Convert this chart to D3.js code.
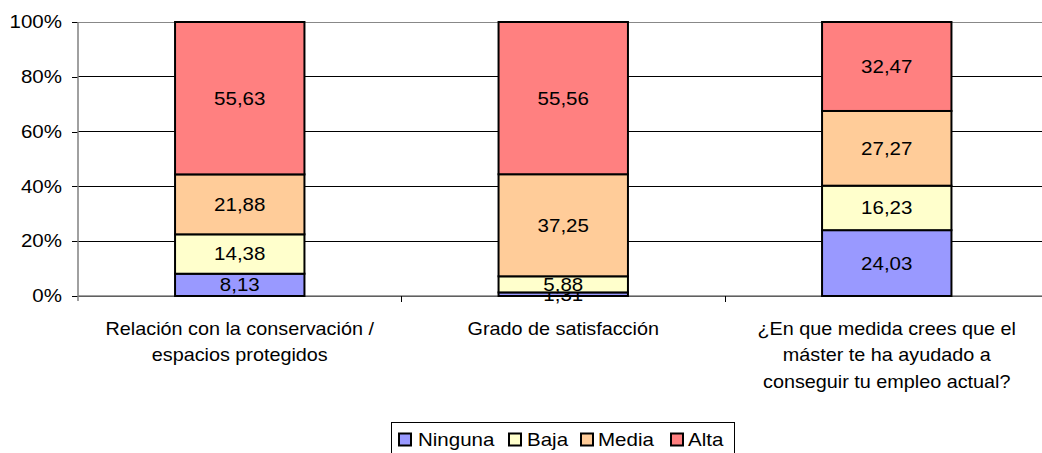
<!DOCTYPE html>
<html>
<head>
<meta charset="utf-8">
<script src="https://cdn.jsdelivr.net/npm/d3@7"></script>
<style>
  body { margin: 0; background: #fff; }
  svg { display: block; font-family: "Liberation Sans", Arial, sans-serif; }
</style>
</head>
<body>
<svg id="chart" width="1042" height="453"></svg>
<script>
// categorias y series
const categories = [
  ["Relación con la conservación /", "espacios protegidos"],
  ["Grado de satisfacción"],
  ["¿En que medida crees que el", "máster te ha ayudado a", "conseguir tu empleo actual?"]
];
const seriesNames = ["Ninguna", "Baja", "Media", "Alta"];
const seriesColors = ["#9999FF", "#FFFFCC", "#FFCC99", "#FF8080"];
const ninguna = [8.13, 1.31, 24.03];
const baja = [14.38, 5.88, 16.23];
const media = [21.88, 37.25, 27.27];
const alta = [55.63, 55.56, 32.47];
const yTicks = [0, 20, 40, 60, 80, 100];

const svg = d3.select("#chart");
const plotLeft = 78, plotRight = 1048.5, plotTop = 22, plotBottom = 296;
const fontSize = 18;
const stretch = 1.14; // el texto del original es algo mas ancho

const x = d3.scaleBand()
  .domain(d3.range(categories.length))
  .range([plotLeft, plotRight])
  .paddingInner(0.6)
  .paddingOuter(0.3);
const step = x.step();

const y = d3.scaleLinear().domain([0, 100]).range([plotBottom, plotTop]);

// texto ensanchado horizontalmente
function wideText(sel, cx, cy, s = stretch) {
  return sel.attr("x", cx / s).attr("y", cy)
    .attr("transform", `scale(${s},1)`)
    .attr("font-size", fontSize)
    .attr("fill", "#000");
}

// ===== GRID =====
svg.append("g").selectAll("line")
  .data(yTicks)
  .enter().append("line")
  .attr("x1", plotLeft).attr("x2", 1042)
  .attr("y1", d => y(d)).attr("y2", d => y(d))
  .attr("stroke", d => d === 100 ? "#888" : "#000")
  .attr("stroke-width", 1)
  .attr("shape-rendering", "crispEdges");

// ===== EJE Y =====
const yAxis = d3.axisLeft(y).tickValues(yTicks).tickFormat(d => d + "%").tickSize(6).tickPadding(10);
const gy = svg.append("g").attr("transform", `translate(${plotLeft},0)`).call(yAxis);
gy.select(".domain").remove();
gy.selectAll(".tick line").attr("stroke", "#000").attr("shape-rendering", "crispEdges");
gy.selectAll("text")
  .attr("x", -16 / stretch)
  .attr("transform", `scale(${stretch},1)`)
  .attr("font-size", fontSize).attr("fill", "#000")
  .attr("font-family", "Liberation Sans, Arial, sans-serif");
svg.append("line")
  .attr("x1", plotLeft).attr("x2", plotLeft).attr("y1", plotTop).attr("y2", plotBottom + 5)
  .attr("stroke", "#808080").attr("stroke-width", 1.5);

// eje x con marcas entre categorias
svg.append("line")
  .attr("x1", plotLeft).attr("x2", 1042).attr("y1", plotBottom).attr("y2", plotBottom)
  .attr("stroke", "#808080").attr("stroke-width", 1.5);
svg.append("g").selectAll("line")
  .data(d3.range(1, categories.length))
  .enter().append("line")
  .attr("x1", i => x(i) - step * 0.3).attr("x2", i => x(i) - step * 0.3)
  .attr("y1", plotBottom).attr("y2", plotBottom + 6)
  .attr("stroke", "#000").attr("shape-rendering", "crispEdges");

// ===== BARRAS =====
const table = categories.map((c, i) => ({
  i, Ninguna: ninguna[i], Baja: baja[i], Media: media[i], Alta: alta[i]
}));
const stacked = d3.stack().keys(seriesNames)(table);

const layers = svg.append("g").selectAll("g")
  .data(stacked)
  .enter().append("g")
  .attr("fill", (d, k) => seriesColors[k]);

layers.selectAll("rect")
  .data(d => d)
  .enter().append("rect")
  .attr("x", d => x(d.data.i))
  .attr("width", x.bandwidth())
  .attr("y", d => y(Math.min(d[1], 100)))
  .attr("height", d => y(d[0]) - y(Math.min(d[1], 100)))
  .attr("stroke", "#000")
  .attr("stroke-width", 2);

layers.selectAll("text")
  .data(d => d.map(v => ({ v, key: d.key })))
  .enter().append("text")
  .each(function(d) {
    const cx = x(d.v.data.i) + x.bandwidth() / 2;
    const cy = (y(d.v[0]) + y(Math.min(d.v[1], 100))) / 2;
    wideText(d3.select(this), cx, cy);
  })
  .attr("dy", "0.36em")
  .attr("text-anchor", "middle")
  .text(d => d.v.data[d.key].toFixed(2).replace(".", ","));

// ===== ETIQUETAS CATEGORIAS =====
categories.forEach((lines, i) => {
  lines.forEach((line, j) => {
    wideText(svg.append("text"), x(i) + x.bandwidth() / 2, 335 + j * 26.5, 1.1)
      .attr("text-anchor", "middle")
      .text(line);
  });
});

// ===== LEYENDA =====
const lg = svg.append("g");
lg.append("rect")
  .attr("x", 391.5).attr("y", 422.5).attr("width", 343).attr("height", 40)
  .attr("fill", "#fff").attr("stroke", "#000").attr("stroke-width", 1);
const legendSwatchX = [399, 509, 581, 671];
const legendTextX = [418, 527, 598, 688];
seriesNames.forEach((name, k) => {
  lg.append("rect")
    .attr("x", legendSwatchX[k]).attr("y", 433.5).attr("width", 12).attr("height", 12)
    .attr("fill", seriesColors[k]).attr("stroke", "#000").attr("stroke-width", 2);
  wideText(lg.append("text"), legendTextX[k], 446)
    .text(name);
});
</script>
</body>
</html>
